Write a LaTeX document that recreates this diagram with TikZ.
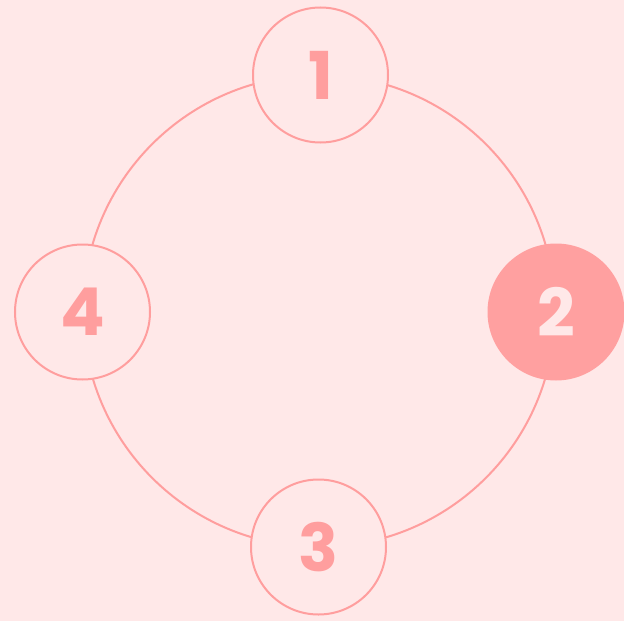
\documentclass[tikz,border=0pt]{standalone}
\usepackage{fontspec}
\setmainfont{Poppins}[BoldFont={* Bold}]
\definecolor{bg}{HTML}{FFE8E8}
\definecolor{accent}{HTML}{FF9E9E}
\definecolor{fillacc}{HTML}{FFA0A0}
\begin{document}
\begin{tikzpicture}[x=1pt,y=-1pt,
  stepnode/.style={circle,draw=accent,line width=2pt,fill=bg,minimum size=135pt,inner sep=0pt,
    text=accent,font=\fontsize{66}{66}\selectfont\bfseries},
  activenode/.style={stepnode,draw=fillacc,fill=fillacc,text=bg}]
\fill[bg] (0,0) rectangle (624,621);
\useasboundingbox (0,0) rectangle (624,621);
\coordinate (c) at (319,311);
\draw[accent,line width=2pt] (c) circle[radius=236pt];
\node[stepnode] (n1) at (320.5,75) {1};
\node[activenode] (n2) at (556,312) {2};
\node[stepnode] (n3) at (318.5,547) {3};
\node[stepnode] (n4) at (82.5,312) {4};
\end{tikzpicture}
\end{document}
